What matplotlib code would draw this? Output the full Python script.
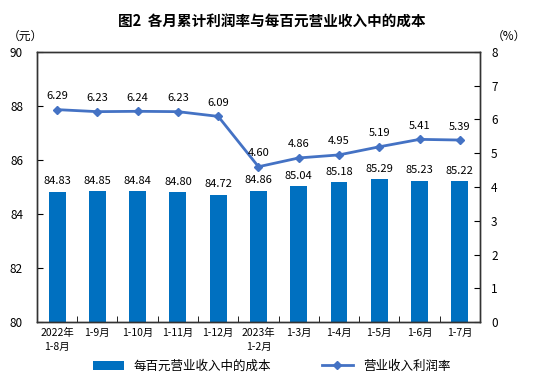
import numpy as np
import matplotlib
matplotlib.use('Agg')
import matplotlib.pyplot as plt

plt.rcParams['font.family'] = ['Noto Sans CJK SC', 'DejaVu Sans']

# 数据
months = ['2022年\n1-8月', '1-9月', '1-10月', '1-11月', '1-12月', '2023年\n1-2月',
          '1-3月', '1-4月', '1-5月', '1-6月', '1-7月']
cost = [84.83, 84.85, 84.84, 84.80, 84.72, 84.86, 85.04, 85.18, 85.29, 85.23, 85.22]
profit_rate = [6.29, 6.23, 6.24, 6.23, 6.09, 4.60, 4.86, 4.95, 5.19, 5.41, 5.39]

bar_color = '#0070C0'
line_color = '#4472C4'

fig = plt.figure(figsize=(5.43, 3.84), dpi=100)
ax = fig.add_axes([0.068, 0.161, 0.816, 0.704])
x = np.arange(len(months))

# 柱状图
bars = ax.bar(x, cost, width=0.42, color=bar_color, label='每百元营业收入中的成本', zorder=2)
ax.set_ylim(80, 90)
ax.set_yticks(np.arange(80, 91, 2))
ax.set_xlim(-0.5, len(months) - 0.5)
ax.set_xticks(x)
ax.set_xticklabels(months, fontsize=7.5, linespacing=1.5)
ax.set_xticks(np.arange(-0.5, len(months), 1), minor=True)
ax.tick_params(axis='x', which='major', length=0, pad=4)
ax.tick_params(axis='x', which='minor', direction='in', length=4)
ax.tick_params(axis='y', direction='in', length=4, labelsize=8.5, pad=10)
for i, v in enumerate(cost):
    ax.text(x[i], v + 0.2, f'{v:.2f}', ha='center', va='bottom', fontsize=8)

# 折线图
ax2 = ax.twinx()
ax2.plot(x, profit_rate, color=line_color, marker='D', markersize=4, linewidth=2,
         label='营业收入利润率', zorder=3)
ax2.set_ylim(0, 8)
ax2.set_yticks(np.arange(0, 9, 1))
ax2.tick_params(axis='y', direction='in', length=4, labelsize=8.5, pad=8)
for i, v in enumerate(profit_rate):
    ax2.text(x[i], v + 0.25, f'{v:.2f}', ha='center', va='bottom', fontsize=8)

for a in (ax, ax2):
    for s in a.spines.values():
        s.set_linewidth(1.0)
        s.set_color('#333333')

fig.text(0.5, 0.943, '图2  各月累计利润率与每百元营业收入中的成本', ha='center', va='center',
         fontsize=10.5, fontweight='bold')
fig.text(0.015, 0.905, '（元）', fontsize=8.5, va='center')
fig.text(0.905, 0.905, '（%）', fontsize=8.5, va='center')

h1, l1 = ax.get_legend_handles_labels()
h2, l2 = ax2.get_legend_handles_labels()
fig.legend(h1 + h2, l1 + l2, loc='lower center', bbox_to_anchor=(0.5, 0.0), ncol=2,
           frameon=False, fontsize=9, columnspacing=4, handlelength=2.5)

fig.savefig('out.png', dpi=100)
